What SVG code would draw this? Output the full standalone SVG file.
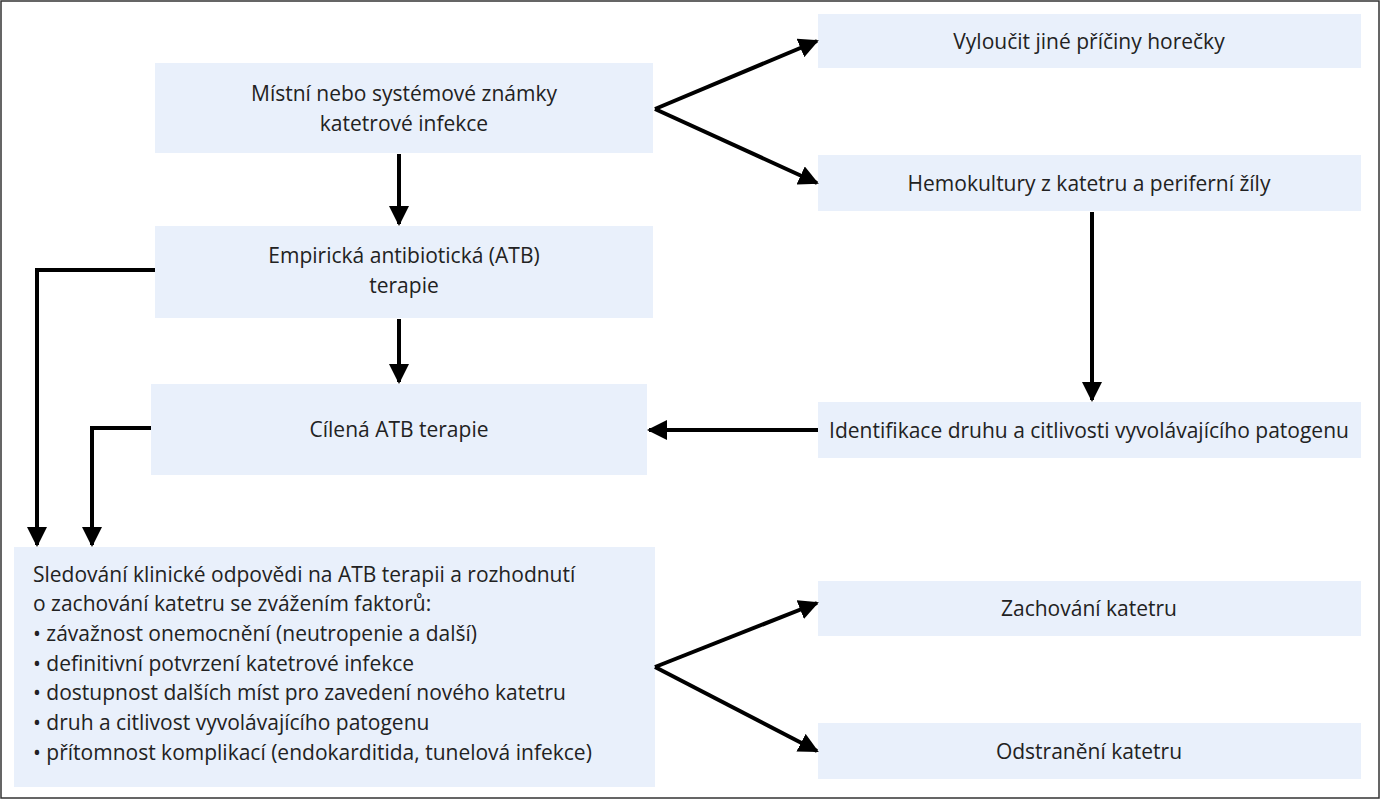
<svg xmlns="http://www.w3.org/2000/svg" width="1381" height="800" viewBox="0 0 1381 800">
<defs>
<marker id="ah" viewBox="0 0 10 10" refX="9" refY="5" markerWidth="5" markerHeight="5" markerUnits="strokeWidth" orient="auto"><path d="M0,0 L10,5 L0,10 z" fill="#000"/></marker>
<style>
.b{fill:#e9f0fb}
.t{font-family:"Open Sans",sans-serif;font-size:21px;fill:#222}
.c{text-anchor:middle}
.l{fill:none;stroke:#000;stroke-width:4;marker-end:url(#ah)}
</style>
</defs>
<rect x="1" y="1" width="1378" height="797" fill="#fff" stroke="#333" stroke-width="1.5"/>
<g id="a"><rect class="b" x="155" y="63" width="498" height="90"/><text class="t c" x="404" y="101">Místní nebo systémové známky</text><text class="t c" x="404" y="131">katetrové infekce</text></g>
<g id="b"><rect class="b" x="155" y="226" width="498" height="92"/><text class="t c" x="404" y="263">Empirická antibiotická (ATB)</text><text class="t c" x="404" y="293">terapie</text></g>
<g id="c"><rect class="b" x="151" y="384" width="496" height="91"/><text class="t c" x="399" y="437">Cílená ATB terapie</text></g>
<g id="d"><rect class="b" x="818" y="14" width="543" height="54"/><text class="t c" x="1089" y="49">Vyloučit jiné příčiny horečky</text></g>
<g id="e"><rect class="b" x="818" y="155" width="543" height="56"/><text class="t c" x="1089" y="191">Hemokultury z katetru a periferní žíly</text></g>
<g id="f"><rect class="b" x="818" y="402" width="543" height="56"/><text class="t c" x="1089" y="438">Identifikace druhu a citlivosti vyvolávajícího patogenu</text></g>
<g id="g"><rect class="b" x="14" y="547" width="641" height="240"/>
<text class="t" x="33" y="582">Sledování klinické odpovědi na ATB terapii a rozhodnutí</text>
<text class="t" x="33" y="611">o zachování katetru se zvážením faktorů:</text>
<text class="t" x="33" y="641">• závažnost onemocnění (neutropenie a další)</text>
<text class="t" x="33" y="671">• definitivní potvrzení katetrové infekce</text>
<text class="t" x="33" y="700">• dostupnost dalších míst pro zavedení nového katetru</text>
<text class="t" x="33" y="730">• druh a citlivost vyvolávajícího patogenu</text>
<text class="t" x="33" y="760">• přítomnost komplikací (endokarditida, tunelová infekce)</text></g>
<g id="h"><rect class="b" x="818" y="581" width="543" height="55"/><text class="t c" x="1089" y="616">Zachování katetru</text></g>
<g id="i"><rect class="b" x="818" y="723" width="543" height="56"/><text class="t c" x="1089" y="759">Odstranění katetru</text></g>
<g id="conn">
<path class="l" d="M655,109 L817,41"/>
<path class="l" d="M655,109 L817,183"/>
<path class="l" d="M399,154 L399,224"/>
<path class="l" d="M399,319 L399,382"/>
<path class="l" d="M1092,212 L1092,400"/>
<path class="l" d="M818,430 L649,430"/>
<path class="l" d="M155,270 L37,270 L37,545"/>
<path class="l" d="M151,428 L92,428 L92,545"/>
<path class="l" d="M655,667 L817,603"/>
<path class="l" d="M655,667 L817,751"/>
</g>
</svg>
